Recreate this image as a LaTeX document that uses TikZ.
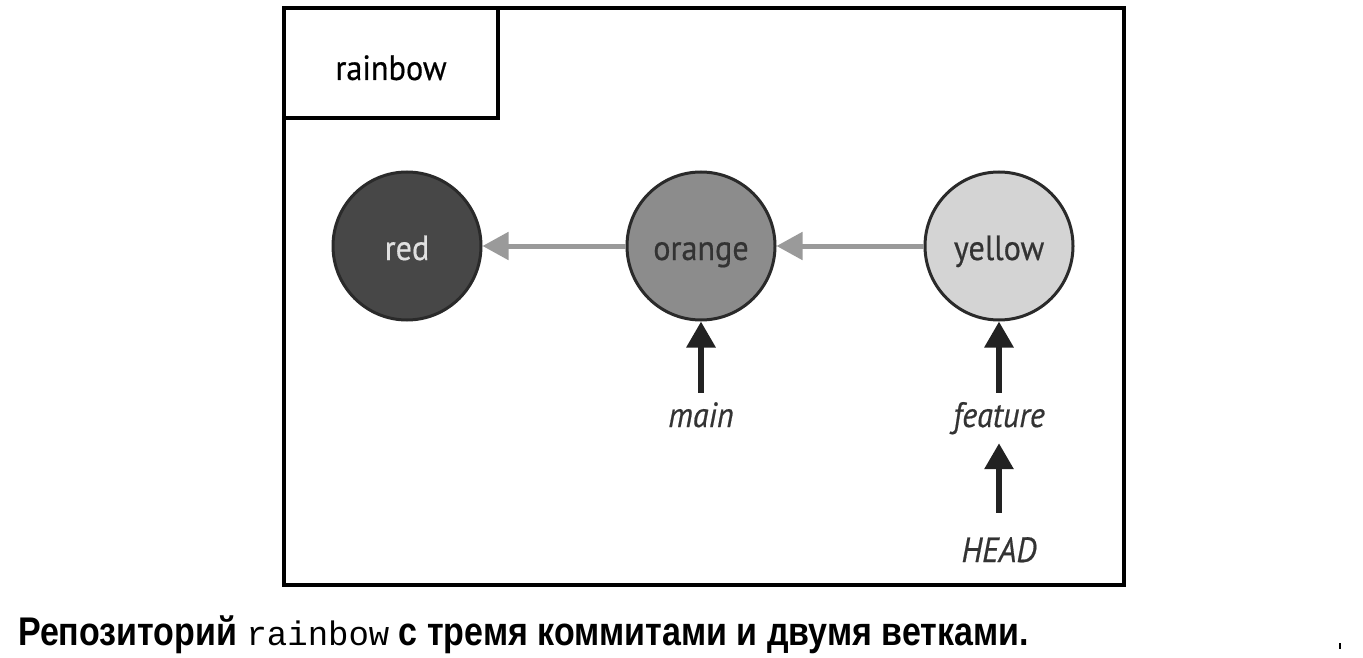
\documentclass[tikz,border=0pt]{standalone}
\usepackage{fontspec}
\usetikzlibrary{arrows.meta}
\newfontfamily\lblfont[FakeStretch=0.92,FakeBold=0.5]{PT Sans}
\newfontfamily\capfont[FakeStretch=0.85]{Liberation Sans}
\newfontfamily\capmono{Liberation Mono}
\definecolor{redfill}{HTML}{474747}
\definecolor{orangefill}{HTML}{8C8C8C}
\definecolor{yellowfill}{HTML}{D4D4D4}
\definecolor{circline}{HTML}{2A2A2A}
\definecolor{linkgray}{HTML}{9A9A9A}
\definecolor{branchink}{HTML}{222222}
\definecolor{lbltext}{HTML}{333333}
\tikzset{
  commit/.style={circle, draw=circline, line width=3pt, minimum size=148pt,
    inner sep=0pt, text height=28pt, text depth=0pt,
    font=\lblfont\fontsize{35}{40}\selectfont},
  branchlbl/.style={inner sep=0pt, anchor=base, text height=25pt, text depth=7pt,
    text=lbltext, font=\lblfont\itshape\fontsize{35}{40}\selectfont},
  parentlink/.style={draw=linkgray, line width=5pt,
    -{Triangle[length=26pt,width=27pt,fill=linkgray]}},
  branchptr/.style={draw=branchink, line width=6pt,
    -{Triangle[length=26pt,width=28pt,fill=branchink]}},
  frame/.style={draw=black, line width=4pt}
}
\begin{document}
\begin{tikzpicture}[x=1pt,y=-1pt]
\useasboundingbox (0,0) rectangle (1363,658);
\fill[white] (0,0) rectangle (1363,658);
% outer frame and title box
\draw[frame] (284,8) rectangle (1124,585);
\draw[frame, line width=3.5pt] (284,8) rectangle (498,118);
\node[anchor=base, inner sep=0pt, font=\lblfont\fontsize{35}{40}\selectfont] (title) at (391,80) {rainbow};
% commits
\node[commit, fill=redfill, text=white!88!black] (red) at (407,246) {red};
\node[commit, fill=orangefill, text=lbltext] (orange) at (701,246) {orange};
\node[commit, fill=yellowfill, text=lbltext] (yellow) at (999,246) {yellow};
% parent links
\draw[parentlink] (orange.west) -- (red.east);
\draw[parentlink] (yellow.west) -- (orange.east);
% branch labels
\node[branchlbl] (main) at (701,427) {main};
\node[branchlbl] (feature) at (999,427) {feature};
\node[branchlbl] (head) at (999,562) {HEAD};
\draw[branchptr, shorten <=9pt] (main.north) -- (orange.south);
\draw[branchptr, shorten <=9pt] (feature.north) -- (yellow.south);
\draw[branchptr, shorten <=24pt, shorten >=9pt] (head.north) -- (feature.south);
% caption
\node[anchor=base west, inner sep=0pt] (caption) at (18,645)
  {\capfont\bfseries\fontsize{40}{44}\selectfont Репозиторий {\capmono\mdseries\fontsize{34}{40}\selectfont rainbow} с тремя коммитами и двумя ветками.};
\fill[black] (1339,643) rectangle (1341,649);
\end{tikzpicture}
\end{document}
